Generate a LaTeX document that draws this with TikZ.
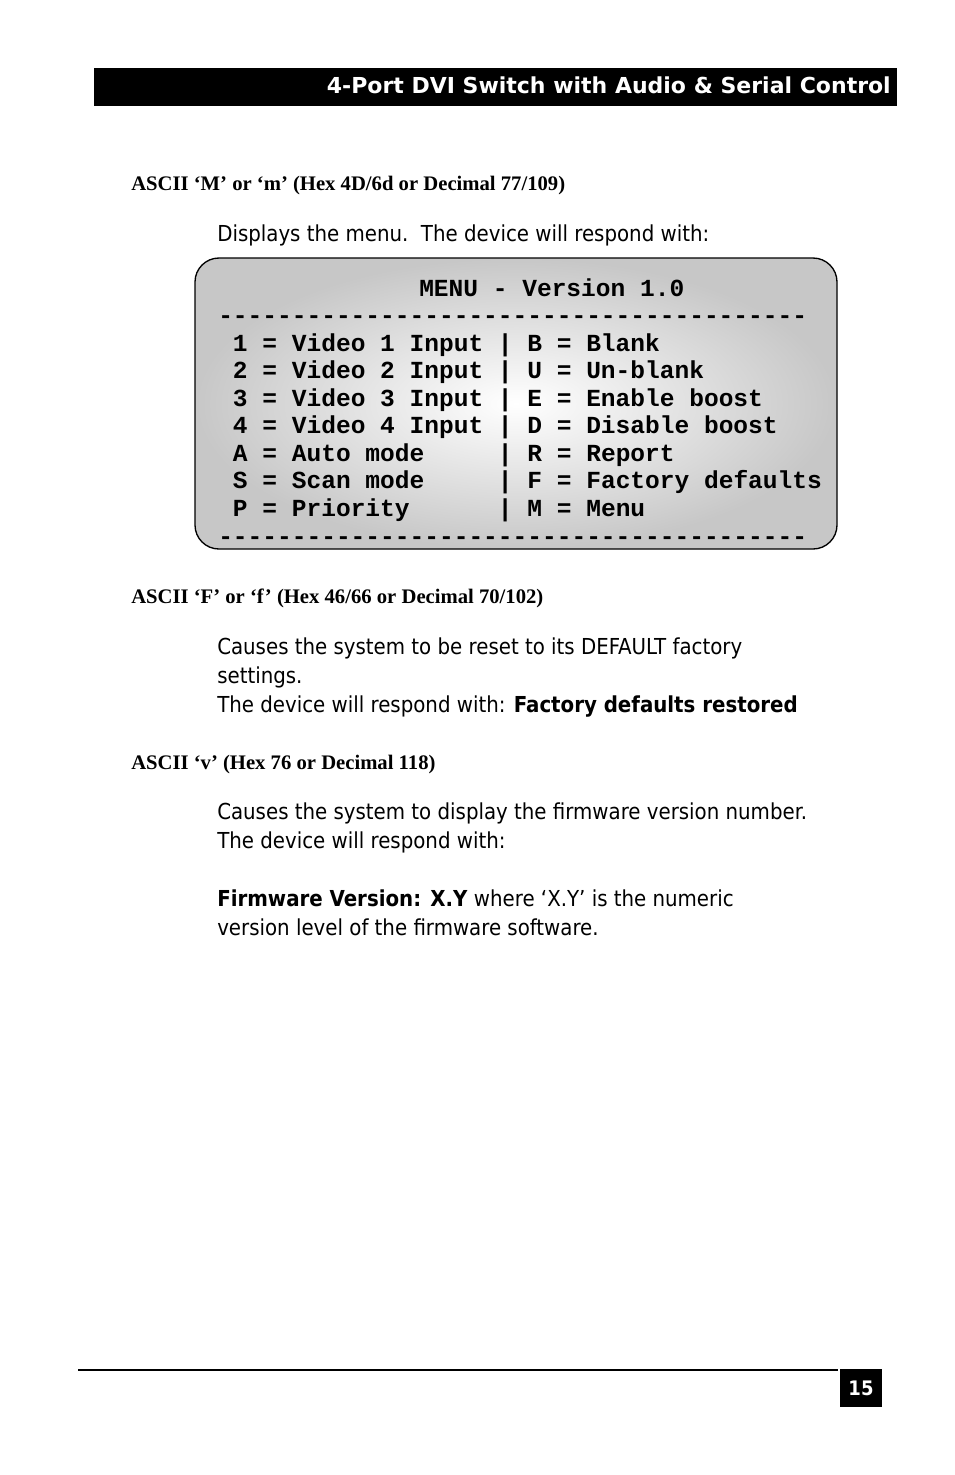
\documentclass[tikz,border=0pt]{standalone}
\usepackage{fontspec}
\setmainfont{DejaVu Sans Condensed}
\newfontfamily\hd{Liberation Serif}
\newfontfamily\mono{Liberation Mono}
\newfontfamily\ttl{DejaVu Sans}
\begin{document}
\begin{tikzpicture}[x=0.75pt,y=-0.75pt,
  head/.style={anchor=base west,inner sep=0,font=\hd\bfseries\fontsize{15.5}{18}\selectfont},
  body/.style={anchor=base west,inner sep=0,font=\fontsize{16.5}{20}\selectfont},
  mn/.style={anchor=base west,inner sep=0,font=\mono\bfseries\fontsize{18.4}{20}\selectfont}]
\useasboundingbox (0,0) rectangle (954,1475);
\fill[white] (0,0) rectangle (954,1475);
\fill[black] (94,68) rectangle (897,106);
\node[anchor=base east,inner sep=0,text=white,font=\ttl\bfseries\fontsize{16.5}{18}\selectfont] (title) at (891,93) {4-Port DVI Switch with Audio \& Serial Control};
\node[head] (h1) at (131,190) {ASCII ‘M’ or ‘m’ (Hex 4D/6d or Decimal 77/109)};
\node[body] (b1) at (217,241) {Displays the menu.\ \ The device will respond with:};
\shade[draw=black,line width=1pt,rounded corners=18pt,inner color=white,outer color=black!22] (195,258) rectangle (837,549);
\node[mn] (m0) at (419,296) {MENU - Version 1.0};
\node[mn] (m1) at (218,323) {----------------------------------------};
\node[mn] (m2) at (218,351) {\ 1 = Video 1 Input | B = Blank};
\node[mn] (m3) at (218,378) {\ 2 = Video 2 Input | U = Un-blank};
\node[mn] (m4) at (218,406) {\ 3 = Video 3 Input | E = Enable boost};
\node[mn] (m5) at (218,433) {\ 4 = Video 4 Input | D = Disable boost};
\node[mn] (m6) at (218,461) {\ A = Auto mode\ \ \ \ \ | R = Report};
\node[mn] (m7) at (218,488) {\ S = Scan mode\ \ \ \ \ | F = Factory defaults};
\node[mn] (m8) at (218,516) {\ P = Priority\ \ \ \ \ \ | M = Menu};
\node[mn] (m9) at (218,544) {----------------------------------------};
\node[head] (h2) at (131,603) {ASCII ‘F’ or ‘f’ (Hex 46/66 or Decimal 70/102)};
\node[body] (b2) at (217,654) {Causes the system to be reset to its DEFAULT factory};
\node[body] (b3) at (217,683) {settings.};
\node[body] (b4) at (217,712) {The device will respond with: \textbf{Factory defaults restored}};
\node[head] (h3) at (131,769) {ASCII ‘v’ (Hex 76 or Decimal 118)};
\node[body] (b5) at (217,819) {Causes the system to display the firmware version number.};
\node[body] (b6) at (217,848) {The device will respond with:};
\node[body] (b7) at (217,906) {\textbf{Firmware Version: X.Y} where ‘X.Y’ is the numeric};
\node[body] (b8) at (217,935) {version level of the firmware software.};
\draw[line width=0.8pt] (78,1370) -- (838,1370);
\fill[black] (840,1369) rectangle (882,1407);
\node[text=white,font=\bfseries\fontsize{15}{18}\selectfont,inner sep=0] (pg) at (861,1388) {15};
\end{tikzpicture}
\end{document}
